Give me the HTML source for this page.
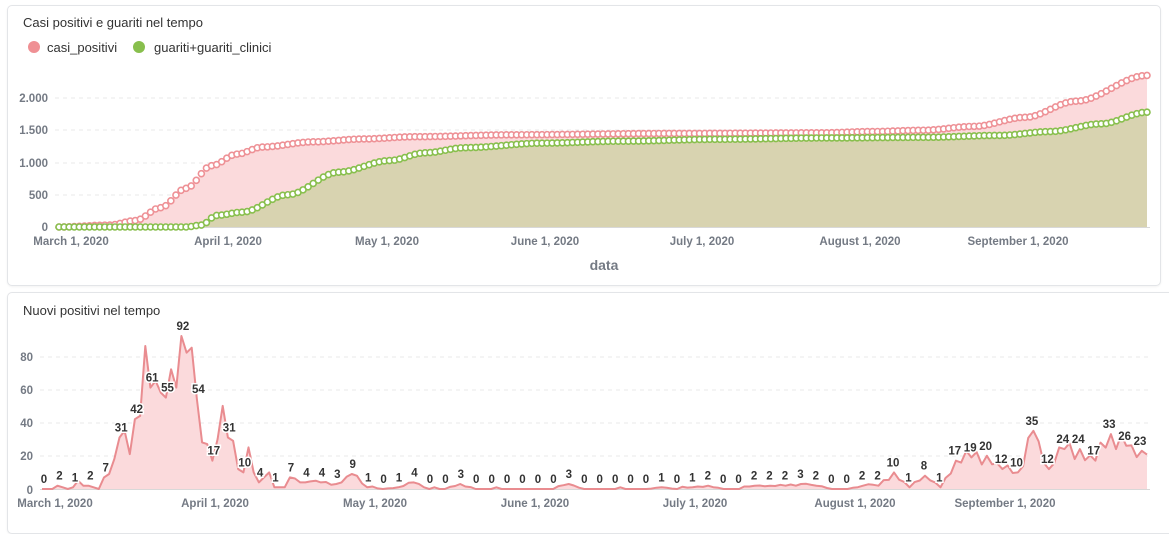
<!DOCTYPE html>
<html><head><meta charset="utf-8"><style>
body{margin:0;background:#fff;width:1169px;height:520px;overflow:hidden;font-family:"Liberation Sans",sans-serif}
.card{position:absolute;border:1px solid #e3e5e8;border-radius:5px;background:#fff;box-shadow:0 1px 2px rgba(0,0,0,0.05)}
svg{position:absolute;left:0;top:0}
.t{font-size:11.5px;font-weight:bold;fill:#747a84}
.lb{font-size:11.5px;font-weight:bold;fill:#333;text-anchor:middle;stroke:#fff;stroke-width:3;paint-order:stroke}
</style></head><body>
<div class="card" style="left:7px;top:5px;width:1152px;height:279px"></div>
<div class="card" style="left:7px;top:292px;width:1165px;height:240px"></div>
<svg id="s" width="1169" height="520">
<text x="23" y="27" font-size="13" fill="#333">Casi positivi e guariti nel tempo</text>
<circle cx="34" cy="47" r="6" fill="#ef9094"/><text x="47" y="52" font-size="13" fill="#333">casi_positivi</text>
<circle cx="139" cy="47" r="6" fill="#88bf4d"/><text x="154" y="52" font-size="13" fill="#333">guariti+guariti_clinici</text>
<g id="g1"></g>
<text class="t" x="48" y="102" text-anchor="end">2.000</text>
<text class="t" x="48" y="134" text-anchor="end">1.500</text>
<text class="t" x="48" y="167" text-anchor="end">1.000</text>
<text class="t" x="48" y="199" text-anchor="end">500</text>
<text class="t" x="48" y="231" text-anchor="end">0</text>
<g class="t" text-anchor="middle">
<text x="71" y="245">March 1, 2020</text><text x="228" y="245">April 1, 2020</text><text x="387" y="245">May 1, 2020</text><text x="545" y="245">June 1, 2020</text><text x="702" y="245">July 1, 2020</text><text x="860" y="245">August 1, 2020</text><text x="1018" y="245">September 1, 2020</text>
</g>
<text x="604" y="270" text-anchor="middle" font-size="14" font-weight="bold" fill="#747a84">data</text>

<text x="23" y="315" font-size="13" fill="#333">Nuovi positivi nel tempo</text>
<g id="g2"></g>
<text class="t" x="33" y="361" text-anchor="end">80</text>
<text class="t" x="33" y="394" text-anchor="end">60</text>
<text class="t" x="33" y="427" text-anchor="end">40</text>
<text class="t" x="33" y="460" text-anchor="end">20</text>
<text class="t" x="33" y="494" text-anchor="end">0</text>
<g class="t" text-anchor="middle">
<text x="55" y="507">March 1, 2020</text><text x="215" y="507">April 1, 2020</text><text x="375" y="507">May 1, 2020</text><text x="535" y="507">June 1, 2020</text><text x="695" y="507">July 1, 2020</text><text x="855" y="507">August 1, 2020</text><text x="1005" y="507">September 1, 2020</text>
</g>
<g id="labs">
<text class="lb">0</text><text class="lb">2</text><text class="lb">1</text><text class="lb">2</text><text class="lb">7</text><text class="lb">31</text><text class="lb">42</text><text class="lb">61</text><text class="lb">55</text><text class="lb">92</text><text class="lb">54</text><text class="lb">17</text><text class="lb">31</text><text class="lb">10</text><text class="lb">4</text><text class="lb">1</text><text class="lb">7</text><text class="lb">4</text><text class="lb">4</text><text class="lb">3</text><text class="lb">9</text><text class="lb">1</text><text class="lb">0</text><text class="lb">1</text><text class="lb">4</text><text class="lb">0</text><text class="lb">0</text><text class="lb">3</text><text class="lb">0</text><text class="lb">0</text><text class="lb">0</text><text class="lb">0</text><text class="lb">0</text><text class="lb">0</text><text class="lb">3</text><text class="lb">0</text><text class="lb">0</text><text class="lb">0</text><text class="lb">0</text><text class="lb">0</text><text class="lb">1</text><text class="lb">0</text><text class="lb">1</text><text class="lb">2</text><text class="lb">0</text><text class="lb">0</text><text class="lb">2</text><text class="lb">2</text><text class="lb">2</text><text class="lb">3</text><text class="lb">2</text><text class="lb">0</text><text class="lb">0</text><text class="lb">2</text><text class="lb">2</text><text class="lb">10</text><text class="lb">1</text><text class="lb">8</text><text class="lb">1</text><text class="lb">17</text><text class="lb">19</text><text class="lb">20</text><text class="lb">12</text><text class="lb">10</text><text class="lb">35</text><text class="lb">12</text><text class="lb">24</text><text class="lb">24</text><text class="lb">17</text><text class="lb">33</text><text class="lb">26</text><text class="lb">23</text>
</g>
</svg>
<script>
(function(){
var NS="http://www.w3.org/2000/svg";
function el(p,n,a){var e=document.createElementNS(NS,n);for(var k in a)e.setAttribute(k,a[k]);p.appendChild(e);return e;}
function interp(an,d){for(var i=0;i<an.length-1;i++){if(d>=an[i][0]&&d<=an[i+1][0]){var t=(d-an[i][0])/(an[i+1][0]-an[i][0]);t=t*t*(3-2*t);return an[i][1]+t*(an[i+1][1]-an[i][1]);}}return an[an.length-1][1];}
var g1=document.getElementById('g1');
[98,130,163,195].forEach(function(y){el(g1,'line',{x1:55,x2:1150,y1:y,y2:y,stroke:'#e8e8e8','stroke-dasharray':'4,4'});});
el(g1,'line',{x1:55,x2:1150,y1:227.5,y2:227.5,stroke:'#d8d8d8'});
var N=215,x0=59,dx=(1147-59)/(N-1),Y0=227,sc=129/2000;
var P=[[0,0],[10,30],[15,100],[20,300],[25,600],[30,950],[35,1130],[40,1240],[50,1320],[60,1365],[70,1400],[90,1430],[120,1450],[150,1460],[160,1480],[170,1500],[180,1560],[190,1700],[200,1950],[214,2350]];
var G=[[0,0],[25,0],[28,30],[31,180],[36,230],[45,500],[55,850],[65,1030],[72,1150],[80,1230],[95,1300],[110,1330],[130,1360],[150,1380],[170,1390],[185,1420],[195,1480],[205,1600],[214,1780]];
function path(an){var pts=[];for(var d=0;d<N;d++)pts.push([x0+d*dx,Y0-interp(an,d)*sc]);return pts;}
var pp=path(P),gp=path(G);
function area(p){return 'M'+p[0][0]+','+Y0+' L'+p.map(function(q){return q[0].toFixed(1)+','+q[1].toFixed(1)}).join(' L')+' L'+p[p.length-1][0]+','+Y0+'Z';}
el(g1,'path',{d:area(pp),fill:'#fbdadc'});
el(g1,'path',{d:area(gp),fill:'#d8d3b0'});
pp.forEach(function(q){el(g1,'circle',{cx:q[0],cy:q[1],r:3,fill:'#fff',stroke:'#ee9196','stroke-width':1.6});});
gp.forEach(function(q){el(g1,'circle',{cx:q[0],cy:q[1],r:3,fill:'#fff',stroke:'#88bf4d','stroke-width':1.6});});
var g2=document.getElementById('g2');
[357,390,423,456].forEach(function(y){el(g2,'line',{x1:40,x2:1150,y1:y,y2:y,stroke:'#e8e8e8','stroke-dasharray':'4,4'});});
var labs=document.querySelectorAll('#labs text');var L=[];labs.forEach(function(t){L.push(+t.textContent);});
var M=(L.length-1)*3+2, bx0=42, bdx=(1147-42)/(M-1), BY=489, bs=133/80;
var D=[];
var pert=[1.15,0.8,1.25,0.75,1.05,0.9];
for(var k=0;k<L.length;k++){D[3*k]=L[k];var nx=k+1<L.length?L[k+1]:L[k];var a=L[k],b=nx;
 D[3*k+1]=Math.max(0,(a*2+b)/3*pert[k%6]+((k%4==1)?1:0));D[3*k+2]=Math.max(0,(a+b*2)/3*pert[(k+3)%6]);}
var early=[0,0,0,2,1,0,1,5,2,2,1,0,7,9,18,31,35,21,42,44,86,61,65,58,55,72,61,92,82,85,54,28,27,17,30,50,31,29,12,10,25,10,4,7,10,1,1,1];
for(var i=0;i<early.length;i++)D[i]=early[i];
D=D.slice(0,M);
var pts=D.map(function(v,i){return [bx0+i*bdx,BY-v*bs];});
var d='M'+pts.map(function(q){return q[0].toFixed(1)+','+q[1].toFixed(1)}).join(' L');
el(g2,'path',{d:d+' L'+pts[pts.length-1][0]+','+BY+' L'+bx0+','+BY+'Z',fill:'#fbdadc'});
el(g2,'line',{x1:40,x2:1150,y1:489.5,y2:489.5,stroke:'#d8d8d8'});
el(g2,'path',{d:d,fill:'none',stroke:'#e98c90','stroke-width':2,'stroke-linejoin':'round'});
var lx0=44,ldx=(1140-44)/(L.length-1);
labs.forEach(function(t,k){t.setAttribute('x',(lx0+k*ldx).toFixed(1));t.setAttribute('y',(BY-L[k]*bs-6).toFixed(1));});
})();
</script>
</body></html>
